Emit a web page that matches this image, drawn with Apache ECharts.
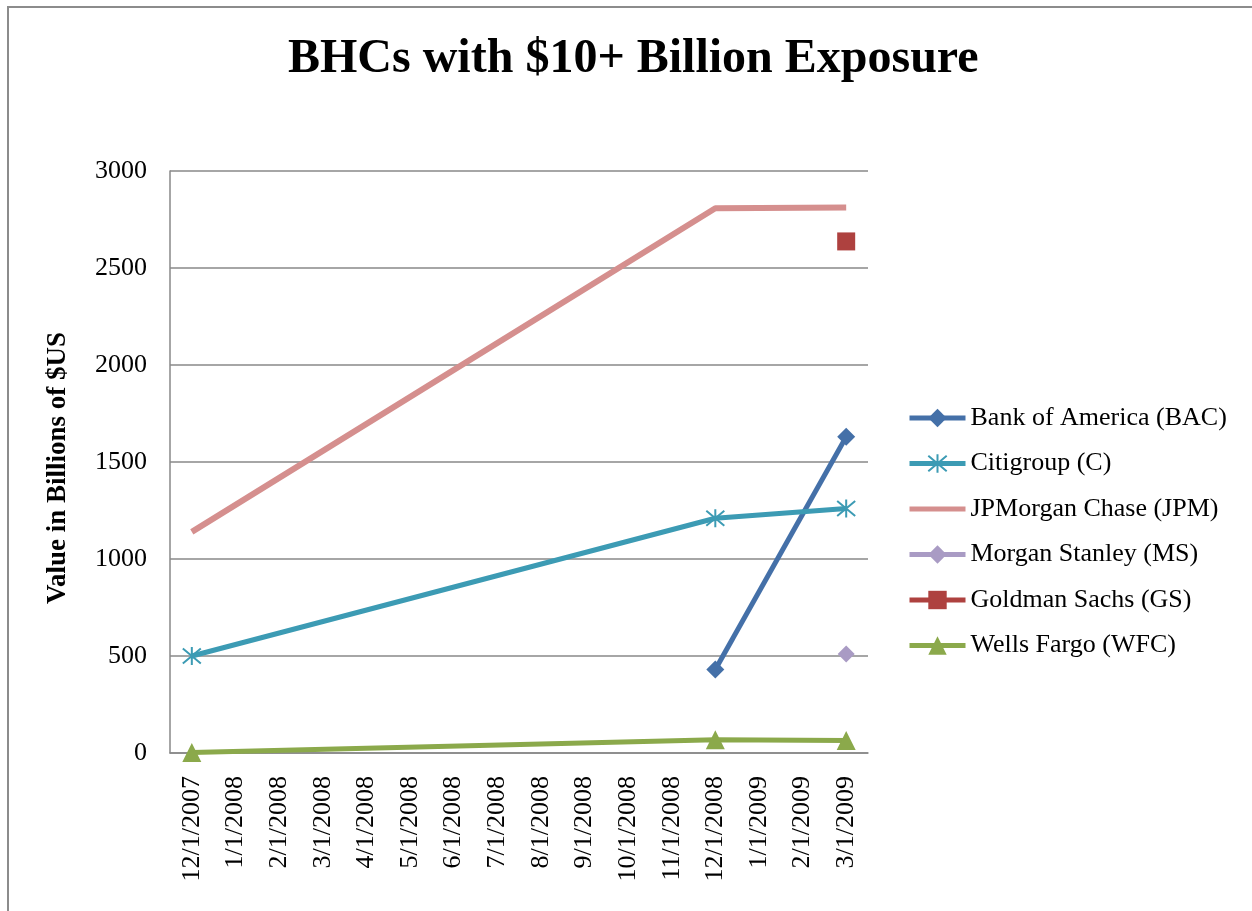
<!DOCTYPE html>
<html>
<head>
<meta charset="utf-8">
<script src="https://cdn.jsdelivr.net/npm/echarts@6/dist/echarts.min.js"></script>
<style>
html,body{margin:0;padding:0;background:#fff;}
#c{width:1252px;height:911px;}
</style>
</head>
<body>
<div id="c"></div>
<script>
var categories = ['12/1/2007','1/1/2008','2/1/2008','3/1/2008','4/1/2008','5/1/2008','6/1/2008','7/1/2008','8/1/2008','9/1/2008','10/1/2008','11/1/2008','12/1/2008','1/1/2009','2/1/2009','3/1/2009'];
var bac = [null,null,null,null,null,null,null,null,null,null,null,null,430,null,null,1630];
var citi = [500,null,null,null,null,null,null,null,null,null,null,null,1210,null,null,1260];
var jpm = [1140,null,null,null,null,null,null,null,null,null,null,null,2808,null,null,2812];
var ms = [null,null,null,null,null,null,null,null,null,null,null,null,null,null,null,510];
var gs = [null,null,null,null,null,null,null,null,null,null,null,null,null,null,null,2637];
var wfc = [3,null,null,null,null,null,null,null,null,null,null,null,68,null,null,64];
var yTicks = [0,500,1000,1500,2000,2500,3000];

var serif = 'Liberation Serif';
var gridColor = '#888888';

function mkSeries(name, data, color, symbol, size, lw, extra) {
  var s = {
    name: name, type: 'line', data: data, connectNulls: true,
    symbol: symbol, symbolSize: size,
    lineStyle: {color: color, width: lw},
    itemStyle: {color: color},
    emphasis: {disabled: true},
    animation: false
  };
  if (extra) for (var k in extra) s[k] = extra[k];
  return s;
}

var chart = echarts.init(document.getElementById('c'));
chart.setOption({
  backgroundColor: '#ffffff',
  animation: false,
  title: {
    text: 'BHCs with $10+ Billion Exposure',
    left: 283, top: 31,
    textStyle: {fontFamily: serif, fontWeight: 'bold', fontSize: 48, color: '#000'}
  },
  graphic: [{
    type: 'rect', silent: true,
    shape: {x: 8, y: 7, width: 1300, height: 1000},
    style: {fill: 'none', stroke: '#8c8c8c', lineWidth: 2}
  }],
  legend: {
    orient: 'vertical', left: 907, top: 405, padding: 0,
    itemWidth: 56, itemHeight: 23, itemGap: 19.5,
    lineStyle: {width: 5},
    textStyle: {fontFamily: serif, fontSize: 26, color: '#000', lineHeight: 26},
    data: ['Bank of America (BAC)','Citigroup (C)','JPMorgan Chase (JPM)','Morgan Stanley (MS)','Goldman Sachs (GS)','Wells Fargo (WFC)']
  },
  grid: {left: 170, right: 384, top: 171, bottom: 158},
  xAxis: {
    type: 'category', data: categories, boundaryGap: true,
    axisLine: {lineStyle: {color: gridColor, width: 1.5}},
    axisTick: {show: false},
    axisLabel: {rotate: 90, margin: 23, fontFamily: serif, fontSize: 26, color: '#000', interval: 0},
    splitLine: {show: false}
  },
  yAxis: {
    type: 'value', min: yTicks[0], max: yTicks[yTicks.length-1], interval: 500,
    name: 'Value in Billions of $US', nameLocation: 'middle', nameGap: 98,
    nameTextStyle: {fontFamily: serif, fontWeight: 'bold', fontSize: 27, color: '#000', padding: [0, 12, 0, 0]},
    axisLine: {show: true, lineStyle: {color: gridColor, width: 1.5}},
    axisTick: {show: false},
    axisLabel: {margin: 23, fontFamily: serif, fontSize: 26, color: '#000',
      formatter: function (v) { return String(v); }},
    splitLine: {show: true, lineStyle: {color: gridColor, width: 1.5}}
  },
  series: [
    mkSeries('Bank of America (BAC)', bac, '#4470A8', 'diamond', 18, 5),
    mkSeries('Citigroup (C)', citi, '#3C9BB4', 'path://M0,0L10,10M10,0L0,10M5,-1L5,11', 18, 5,
      {itemStyle: {color: 'rgba(0,0,0,0)', borderColor: '#3C9BB4', borderWidth: 2}}),
    mkSeries('JPMorgan Chase (JPM)', jpm, '#D58F8E', 'circle', 1, 6,
      {showSymbol: false, itemStyle: {color: 'rgba(0,0,0,0)'}}),
    mkSeries('Morgan Stanley (MS)', ms, '#A99BC4', 'diamond', 17, 5),
    mkSeries('Goldman Sachs (GS)', gs, '#AE413F', 'rect', 18, 5),
    mkSeries('Wells Fargo (WFC)', wfc, '#8BA94B', 'triangle', 19, 5)
  ]
});
</script>
</body>
</html>
